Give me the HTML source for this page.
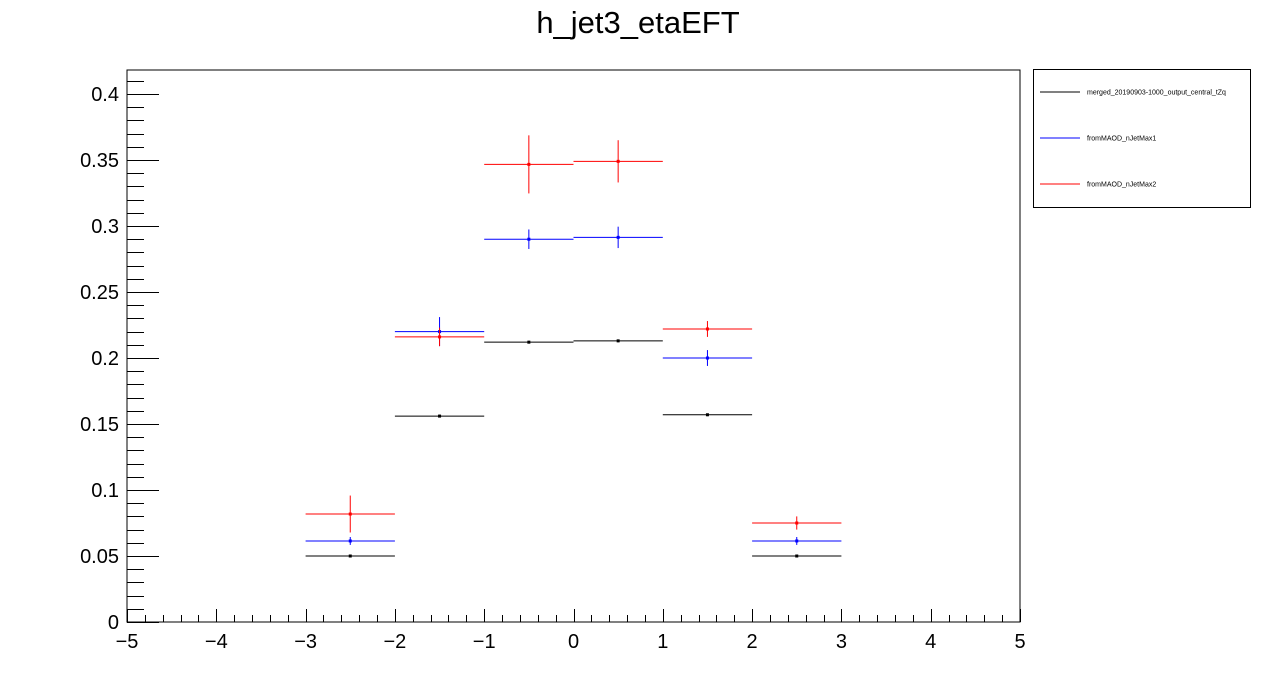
<!DOCTYPE html>
<html><head><meta charset="utf-8"><style>
body{margin:0;background:#fff;}
svg{display:block;font-family:"Liberation Sans",Arial,sans-serif;}
</style></head><body>
<svg id="chart" width="1276" height="692" viewBox="0 0 1276 692">
<text x="638" y="33" text-anchor="middle" font-size="31">h_jet3_etaEFT</text>
<rect x="127" y="70" width="893" height="552" fill="none" stroke="#000" stroke-width="1"/>
<g id="axes"></g>
<g id="series"></g>
<g>
<rect x="1033.5" y="69.5" width="217" height="138" fill="#fff" stroke="#000"/>
<line x1="1040" y1="92" x2="1080" y2="92" stroke="#000"/>
<text x="1087" y="94.5" font-size="7">merged_20190903-1000_output_central_tZq</text>
<line x1="1040" y1="138" x2="1080" y2="138" stroke="#00f"/>
<text x="1087" y="140.5" font-size="7">fromMAOD_nJetMax1</text>
<line x1="1040" y1="184" x2="1080" y2="184" stroke="#f00"/>
<text x="1087" y="186.5" font-size="7">fromMAOD_nJetMax2</text>
</g>
</svg>
<script>
const binCenters=[-2.5,-1.5,-0.5,0.5,1.5,2.5];
const binWidth=1;
const blackValues=[0.050,0.156,0.212,0.213,0.157,0.050];
const blackErrors=[0.001,0.001,0.001,0.001,0.001,0.001];
const blueValues=[0.0614,0.220,0.290,0.2914,0.200,0.0614];
const blueErrors=[0.003,0.011,0.0074,0.0081,0.006,0.003];
const redValues=[0.0818,0.216,0.3467,0.349,0.222,0.075];
const redErrors=[0.014,0.007,0.022,0.016,0.006,0.005];
const xTickLabels=["\u22125","\u22124","\u22123","\u22122","\u22121","0","1","2","3","4","5"];
const yTickLabels=["0","0.05","0.1","0.15","0.2","0.25","0.3","0.35","0.4"];

const X0=127,X1=1020,Y0=622,Yt=70;
const xMin=-5,xMax=5,yMin=0,yMax=0.4182;
const xs=v=>X0+(v-xMin)/(xMax-xMin)*(X1-X0);
const ys=v=>Y0-(v-yMin)/(yMax-yMin)*(Y0-Yt);
const NS="http://www.w3.org/2000/svg";
function mk(tag,attrs,parent){const e=document.createElementNS(NS,tag);for(const k in attrs)e.setAttribute(k,attrs[k]);parent.appendChild(e);return e;}
const axes=document.getElementById('axes');
// x ticks
for(let i=0;i<=50;i++){
  const v=xMin+i*0.2;const x=Math.round(xs(v))+0.5;const major=i%5===0;
  const t=mk('line',{x1:x,y1:Y0,x2:x,y2:Y0-(major?13:7),stroke:'#000'},axes);
  
  
}
xTickLabels.forEach((lab,i)=>{
  const t=mk('text',{x:xs(xMin+i),y:648,'text-anchor':'middle','font-size':'20'},axes);
  t.textContent=lab;
  
  
});
// y ticks
for(let i=0;i<=41;i++){
  const v=i*0.01;const y=Math.round(ys(v))+0.5;const major=i%5===0;
  const t=mk('line',{x1:X0,y1:y,x2:X0+(major?32:17),y2:y,stroke:'#000'},axes);
  
  
}
yTickLabels.forEach((lab,i)=>{
  const t=mk('text',{x:119,y:ys(i*0.05)+7,'text-anchor':'end','font-size':'20'},axes);
  t.textContent=lab;
  
  
});
const series=document.getElementById('series');
function drawSeries(vals,errs,color,name){
  const g=mk('g',{},series);
  
  
  vals.forEach((v,i)=>{
    const c=binCenters[i];const y=ys(v);
    const h=mk('line',{x1:xs(c-binWidth/2),y1:y,x2:xs(c+binWidth/2),y2:y,stroke:color},g);
    
    
    const e=mk('line',{x1:xs(c),y1:ys(v+errs[i]),x2:xs(c),y2:ys(v-errs[i]),stroke:color},g);
    
    
    const p=mk('rect',{x:xs(c)-1.5,y:y-1.5,width:3,height:3,fill:color},g);
    
    
  });
}
drawSeries(blackValues,blackErrors,'#000','merged');
drawSeries(blueValues,blueErrors,'#00f','njetmax1');
drawSeries(redValues,redErrors,'#f00','njetmax2');
</script>
</body></html>
